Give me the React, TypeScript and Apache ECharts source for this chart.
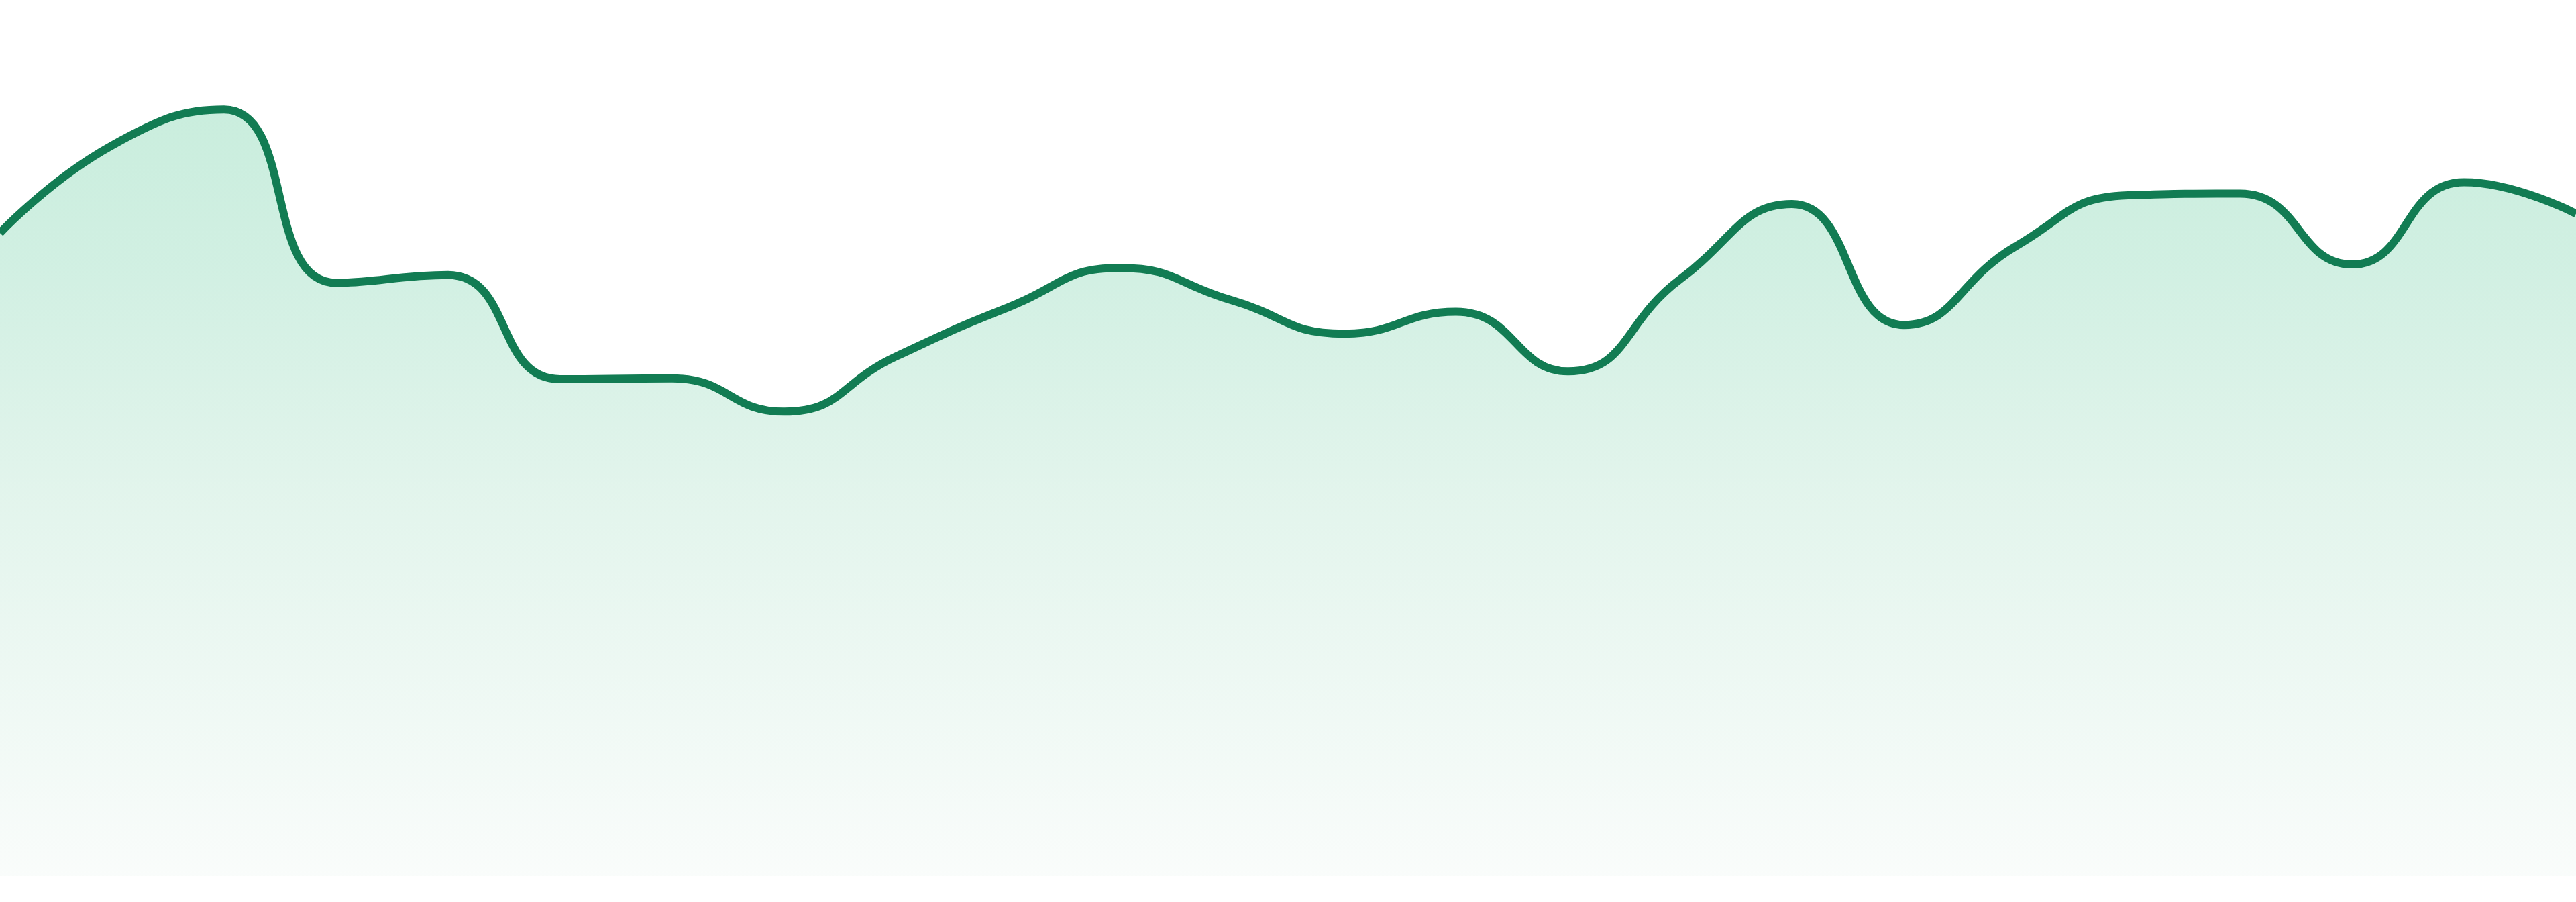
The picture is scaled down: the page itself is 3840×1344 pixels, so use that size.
import React, { useEffect, useRef } from 'react';
import * as echarts from 'echarts';

// 24 hourly samples, axes are hidden in the design
const hours = [
  '00:00', '01:00', '02:00', '03:00', '04:00', '05:00', '06:00', '07:00',
  '08:00', '09:00', '10:00', '11:00', '12:00', '13:00', '14:00', '15:00',
  '16:00', '17:00', '18:00', '19:00', '20:00', '21:00', '22:00', '23:00',
];

const values = [
  73.4, 83.4, 87.5, 67.7, 68.6, 56.7, 56.8, 53.0,
  59.3, 64.9, 69.4, 65.7, 61.9, 64.4, 57.6, 68.1,
  76.7, 62.9, 71.9, 77.7, 77.9, 69.8, 79.2, 75.6,
];

const lineColor = '#127c53';

const App: React.FC = () => {
  const chartRef = useRef<HTMLDivElement>(null);

  useEffect(() => {
    if (!chartRef.current) return;
    const chart = echarts.init(chartRef.current, undefined, { renderer: 'svg' });

    chart.setOption({
      animation: false,
      backgroundColor: '#ffffff',
      grid: { left: 0, right: 0, top: 0, bottom: 39 },
      xAxis: {
        type: 'category',
        data: hours,
        boundaryGap: false,
        show: false,
      },
      yAxis: {
        type: 'value',
        min: 0,
        max: 100,
        show: false,
      },
      series: [
        {
          type: 'line',
          data: values,
          smooth: true,
          symbol: 'none',
          lineStyle: { color: lineColor, width: 12 },
          areaStyle: {
            color: new echarts.graphic.LinearGradient(0, 0, 0, 1, [
              { offset: 0, color: '#b3e6cf' },
              { offset: 0.2, color: '#bde9d6' },
              { offset: 0.5, color: '#d6f0e4' },
              { offset: 1, color: '#f7fbf9' },
            ]),
          },
        },
      ],
    });

    const onResize = () => chart.resize();
    window.addEventListener('resize', onResize);
    return () => {
      window.removeEventListener('resize', onResize);
      chart.dispose();
    };
  }, []);

  return (
    <div
      ref={chartRef}
      style={{ position: 'fixed', left: 0, top: 0, width: '100vw', height: '100vh' }}
    />
  );
};

export default App;
